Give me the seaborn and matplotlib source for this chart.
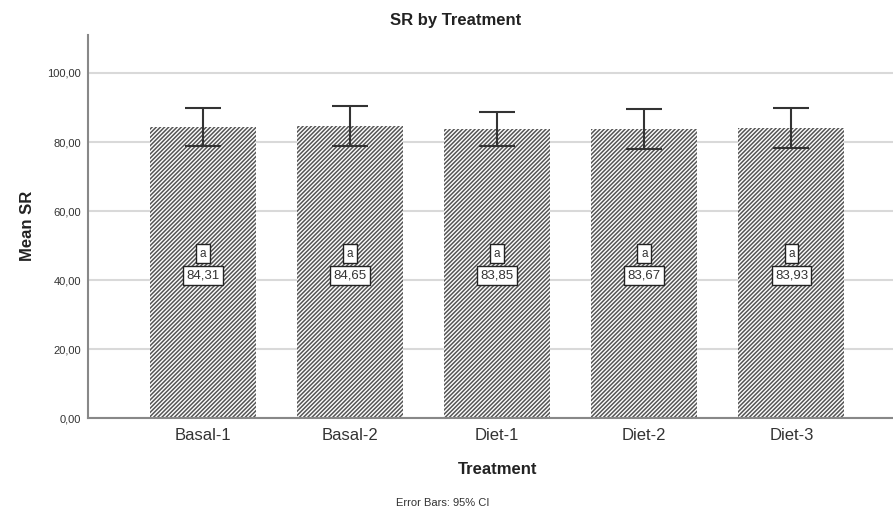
import matplotlib
matplotlib.use("Agg")
import matplotlib.pyplot as plt
import seaborn as sns
import pandas as pd

# data
treatments = ["Basal-1", "Basal-2", "Diet-1", "Diet-2", "Diet-3"]
mean_sr = [84.31, 84.65, 83.85, 83.67, 83.93]
ci_low = [78.9, 79.0, 78.9, 78.0, 78.3]
ci_high = [89.9, 90.3, 88.8, 89.5, 89.8]
letters = ["a", "a", "a", "a", "a"]
value_labels = ["84,31", "84,65", "83,85", "83,67", "83,93"]

df = pd.DataFrame({"Treatment": treatments, "SR": mean_sr})

sns.set_style("white")
plt.rcParams["font.family"] = ["Liberation Sans", "DejaVu Sans"]
plt.rcParams["hatch.linewidth"] = 1.1

fig = plt.figure(figsize=(8.93, 5.11), dpi=100)
ax = fig.add_axes([88 / 893, 1 - 418.3 / 511, 1 - 88 / 893, (418.3 - 35) / 511])

sns.barplot(data=df, x="Treatment", y="SR", color="white", width=0.72,
            errorbar=None, ax=ax, zorder=2)
for p in ax.patches:
    p.set_facecolor("white")
    p.set_edgecolor("#555555")
    p.set_linewidth(0)
    p.set_hatch("////////")

# 95% CI error bars
lower = [m - lo for m, lo in zip(mean_sr, ci_low)]
upper = [hi - m for m, hi in zip(mean_sr, ci_high)]
ax.errorbar(range(len(treatments)), mean_sr, yerr=[lower, upper], fmt="none",
            ecolor="#333333", elinewidth=1.5, capsize=13, capthick=1.5, zorder=3)

# letter and value boxes
for i in range(len(treatments)):
    ax.text(i, 47.7, letters[i], ha="center", va="center", fontsize=8.5, color="#333333",
            bbox=dict(boxstyle="square,pad=0.3", facecolor="white", edgecolor="#222222", linewidth=1),
            zorder=4)
    ax.text(i, 41.4, value_labels[i], ha="center", va="center", fontsize=9.5, color="#333333",
            bbox=dict(boxstyle="square,pad=0.25", facecolor="white", edgecolor="#222222", linewidth=1),
            zorder=4)

ax.set_xlim(-0.78, 4.69)
ax.set_ylim(0, 111)
ax.set_yticks([0, 20, 40, 60, 80, 100])
ax.set_yticklabels(["0,00", "20,00", "40,00", "60,00", "80,00", "100,00"])
ax.yaxis.grid(True, color="#d9d9d9", linewidth=1.5, zorder=0)
ax.set_axisbelow(True)
ax.tick_params(axis="y", length=3, width=1, color="#888888", pad=2, labelsize=8, labelcolor="#333333")
ax.tick_params(axis="x", length=0, pad=7, labelsize=12, labelcolor="#333333")
ax.set_xlabel("")
ax.set_ylabel("")
for side in ["top", "right"]:
    ax.spines[side].set_visible(False)
for side in ["left", "bottom"]:
    ax.spines[side].set_color("#888888")
    ax.spines[side].set_linewidth(1.5)

fig.text(456 / 893, 1 - 20.8 / 511, "SR by Treatment", ha="center", va="center",
         fontsize=12, fontweight="bold", color="#222222")
fig.text(498 / 893, 1 - 469.7 / 511, "Treatment", ha="center", va="center",
         fontsize=12, fontweight="bold", color="#222222")
fig.text(27 / 893, 1 - 226 / 511, "Mean SR", ha="center", va="center", rotation=90,
         fontsize=12, fontweight="bold", color="#222222")
fig.text(443 / 893, 1 - 503.3 / 511, "Error Bars: 95% CI", ha="center", va="center",
         fontsize=8, color="#333333")

fig.savefig("out.png", dpi=100)
